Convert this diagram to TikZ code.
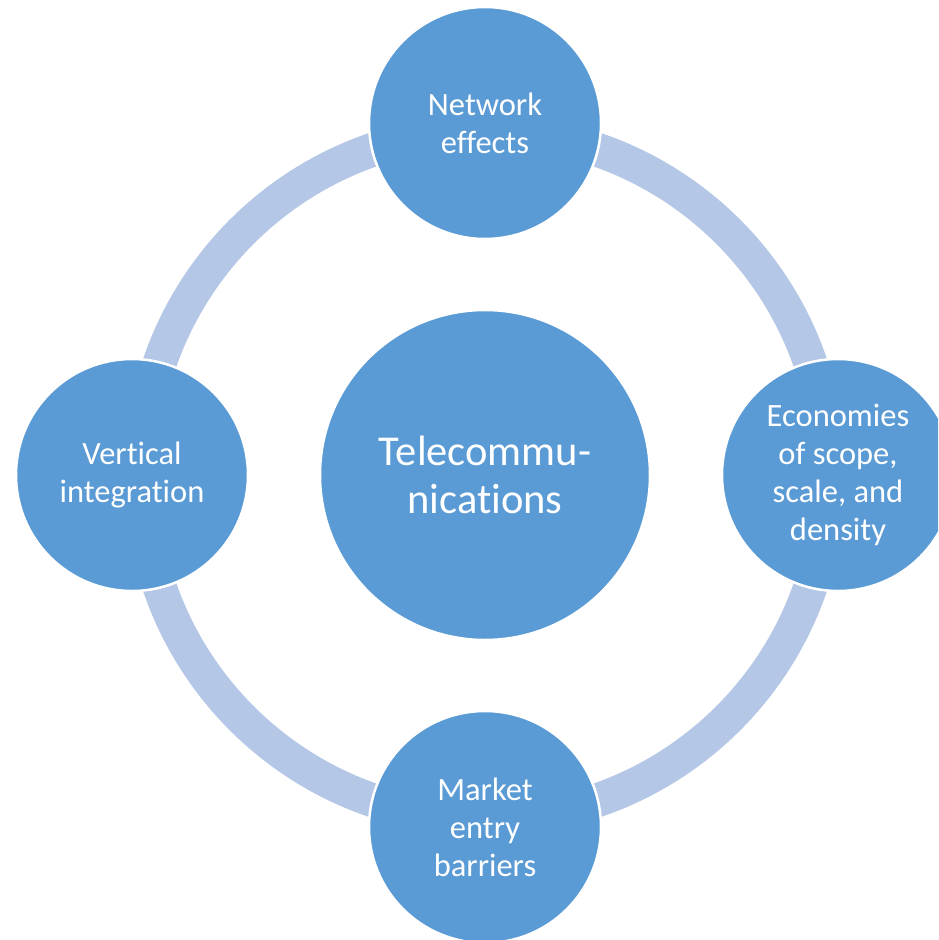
\documentclass[tikz,border=0pt]{standalone}
\usepackage{fontspec}
\setmainfont{Carlito}[RawFeature={-liga;-clig;-dlig}]
\definecolor{ringblue}{HTML}{B4C7E7}
\definecolor{nodeblue}{HTML}{5B9BD5}
\begin{document}
\begin{tikzpicture}[x=1pt,y=-1pt,
  ringarc/.style={draw=ringblue,line width=34pt},
  bubble/.style={circle,fill=nodeblue,draw=white,line width=2.5pt,
    minimum size=232pt,inner sep=0pt,text=white,align=center,
    font=\fontsize{32.5}{38}\selectfont},
  hub/.style={bubble,minimum size=330pt,font=\fontsize{42.5}{47.5}\selectfont}]
\useasboundingbox (0,0) rectangle (938,940);
\clip (0,0) rectangle (938,940);
\fill[white] (0,0) rectangle (938,940);
\coordinate (c) at (485,475);
\draw[ringarc] (c) circle (344);
\node[hub] (tel) at (485,475) {Telecommu-\\nications};
\node[bubble] (net) at (485,123) {Network\\effects};
\node[bubble] (eco) at (838,475) {Economies\\of scope,\\scale, and\\density};
\node[bubble] (mkt) at (485,827) {Market\\entry\\barriers};
\node[bubble] (ver) at (132,475) {Vertical\\integration};
\end{tikzpicture}
\end{document}
